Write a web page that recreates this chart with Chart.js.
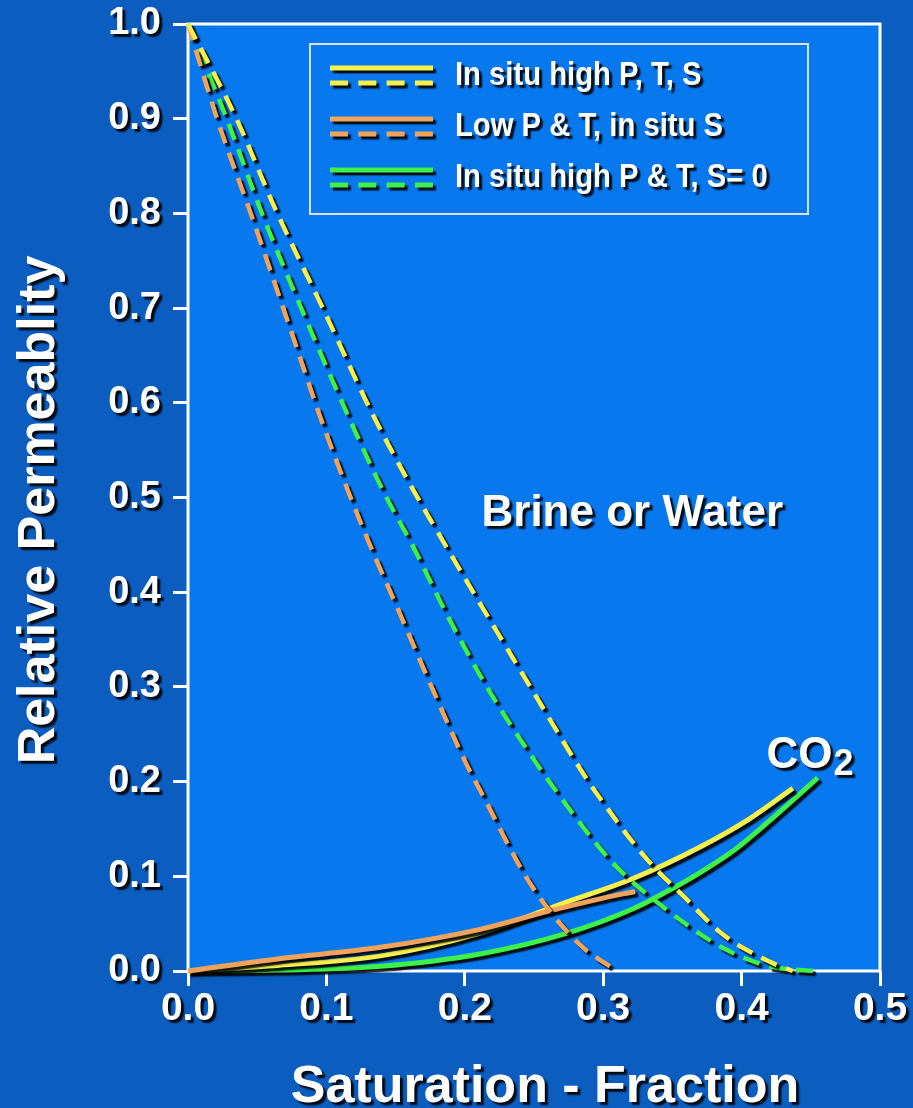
<!DOCTYPE html>
<html>
<head>
<meta charset="utf-8">
<script src="https://cdn.jsdelivr.net/npm/chart.js@4.4.1/dist/chart.umd.min.js"></script>
<style>
  html, body { margin: 0; padding: 0; background: #0b5dc0; }
  #wrap { width: 913px; height: 1108px; position: relative; }
</style>
</head>
<body>
<div id="wrap"><canvas id="relPermChart"></canvas></div>
<script>
// --- axis ticks ---
const xTickValues = [0, 0.1, 0.2, 0.3, 0.4, 0.5];
const xTickLabels = ['0.0', '0.1', '0.2', '0.3', '0.4', '0.5'];
const yTickValues = [0, 0.1, 0.2, 0.3, 0.4, 0.5, 0.6, 0.7, 0.8, 0.9, 1.0];
const yTickLabels = ['0.0', '0.1', '0.2', '0.3', '0.4', '0.5', '0.6', '0.7', '0.8', '0.9', '1.0'];

const xTitle = 'Saturation - Fraction';
const yTitle = 'Relative Permeablity';
const brineLabel = 'Brine or Water';
const co2Label = 'CO';
const co2Sub = '2';

// --- legend / series ---
const seriesNames = ['In situ high P, T, S', 'Low P & T, in situ S', 'In situ high P & T, S= 0'];
const seriesColors = ['#f6f04c', '#f2a35a', '#3ef04a'];

// brine (dashed) curves: saturation vs relative permeability
const brineHighSat = [0, 0.035, 0.063, 0.098, 0.132, 0.160, 0.181, 0.211, 0.242, 0.284, 0.295, 0.331, 0.358, 0.387, 0.420, 0.437];
const brineHighKr  = [1.0, 0.9, 0.805, 0.698, 0.592, 0.515, 0.462, 0.388, 0.313, 0.212, 0.188, 0.119, 0.079, 0.038, 0.010, 0.0];
const brineLowSat  = [0, 0.021, 0.047, 0.073, 0.099, 0.128, 0.152, 0.176, 0.201, 0.211, 0.247, 0.283, 0.310];
const brineLowKr   = [1.0, 0.9, 0.793, 0.682, 0.571, 0.462, 0.381, 0.300, 0.219, 0.191, 0.093, 0.028, 0.0];
const brineS0Sat   = [0, 0.028, 0.054, 0.085, 0.117, 0.142, 0.162, 0.189, 0.218, 0.251, 0.263, 0.307, 0.343, 0.387, 0.420, 0.452];
const brineS0Kr    = [1.0, 0.9, 0.798, 0.689, 0.582, 0.504, 0.450, 0.371, 0.295, 0.221, 0.196, 0.114, 0.068, 0.024, 0.005, 0.0];

// CO2 (solid) curves
const co2HighSat = [0, 0.066, 0.139, 0.211, 0.274, 0.322, 0.370, 0.406, 0.437];
const co2HighKr  = [0, 0.006, 0.016, 0.040, 0.073, 0.098, 0.131, 0.161, 0.193];
const co2LowSat  = [0, 0.066, 0.139, 0.211, 0.260, 0.300, 0.323];
const co2LowKr   = [0, 0.013, 0.025, 0.044, 0.063, 0.077, 0.084];
const co2S0Sat   = [0, 0.066, 0.139, 0.211, 0.274, 0.322, 0.346, 0.370, 0.394, 0.418, 0.455];
const co2S0Kr    = [0, 0.001, 0.005, 0.018, 0.040, 0.066, 0.084, 0.104, 0.127, 0.156, 0.204];

const plotBlue = '#0878ef';
const FONT = '"Liberation Sans", Arial, sans-serif';
const DASH = [17, 10];

function toPoints(xs, ys) {
  return xs.map((x, i) => ({ x: x, y: ys[i] }));
}

function curve(xs, ys, color, dashed) {
  return {
    data: toPoints(xs, ys),
    borderColor: color,
    borderWidth: dashed ? 4.5 : 5,
    borderDash: dashed ? DASH : [],
    borderCapStyle: 'butt',
    pointRadius: 0,
    showLine: true,
    fill: false,
    clip: false,
    cubicInterpolationMode: 'monotone'
  };
}

function setShadow(ctx, off) {
  ctx.shadowColor = 'rgba(0,0,0,0.9)';
  ctx.shadowOffsetX = off;
  ctx.shadowOffsetY = off;
  ctx.shadowBlur = 1.5;
}

function drawText(ctx, text, x, y, size, align, squeeze) {
  ctx.save();
  ctx.translate(x, y);
  ctx.scale(squeeze, 1);
  ctx.font = 'bold ' + size + 'px ' + FONT;
  ctx.textAlign = align;
  ctx.textBaseline = 'alphabetic';
  ctx.fillStyle = '#ffffff';
  ctx.fillText(text, 0, 0);
  ctx.restore();
}

// background of the plot area, shadows, legend box and annotations
const decorPlugin = {
  id: 'decor',
  beforeDraw(chart) {
    const { ctx, chartArea: a } = chart;
    ctx.save();
    ctx.fillStyle = plotBlue;
    ctx.fillRect(a.left, a.top, a.right - a.left, a.bottom - a.top);
    ctx.strokeStyle = '#ffffff';
    ctx.lineWidth = 3;
    ctx.strokeRect(a.left, a.top, a.right - a.left, a.bottom - a.top);
    ctx.restore();
  },
  beforeDatasetDraw(chart) {
    chart.ctx.save();
    setShadow(chart.ctx, 3);
  },
  afterDatasetDraw(chart) {
    chart.ctx.restore();
  },
  afterDatasetsDraw(chart) {
    // tick labels (z: 1) are drawn after this, so they pick up the shadow
    chart.ctx.save();
    setShadow(chart.ctx, 3);
  },
  afterDraw(chart) {
    const { ctx, chartArea: a, scales } = chart;

    // axis titles
    drawText(ctx, xTitle, 545, 1102, 52, 'center', 1);
    ctx.save();
    ctx.translate(54, 510);
    ctx.rotate(-Math.PI / 2);
    drawText(ctx, yTitle, 0, 0, 52, 'center', 1);
    ctx.restore();

    // annotations
    drawText(ctx, brineLabel, scales.x.getPixelForValue(0.321), scales.y.getPixelForValue(0.47), 44, 'center', 1);
    const cx = scales.x.getPixelForValue(0.418);
    const cy = scales.y.getPixelForValue(0.214);
    drawText(ctx, co2Label, cx, cy, 44, 'left', 1);
    ctx.save();
    ctx.font = 'bold 44px ' + FONT;
    const coW = ctx.measureText(co2Label).width;
    ctx.restore();
    drawText(ctx, co2Sub, cx + coW + 1, cy + 7, 36, 'left', 1);

    // legend box
    const bx = a.left + 122, by = a.top + 20, bw = 498, bh = 170;
    ctx.save();
    ctx.shadowColor = 'transparent';
    ctx.strokeStyle = '#d6e2f4';
    ctx.lineWidth = 2;
    ctx.strokeRect(bx, by, bw, bh);
    ctx.restore();

    seriesNames.forEach((name, i) => {
      const base = by + 41 + i * 51;
      ctx.save();
      ctx.strokeStyle = seriesColors[i];
      ctx.lineCap = 'butt';
      ctx.lineWidth = 5;
      ctx.beginPath();
      ctx.moveTo(bx + 20, base - 17);
      ctx.lineTo(bx + 123, base - 17);
      ctx.stroke();
      ctx.setLineDash([18, 10.3]);
      ctx.beginPath();
      ctx.moveTo(bx + 20, base - 2);
      ctx.lineTo(bx + 123, base - 2);
      ctx.stroke();
      ctx.restore();
      drawText(ctx, name, bx + 145, base, 34, 'left', 0.86);
    });

    ctx.restore();
  }
};

const tickFont = { family: FONT, weight: 'bold', size: 38 };

new Chart(document.getElementById('relPermChart'), {
  type: 'scatter',
  data: {
    datasets: [
      curve(brineHighSat, brineHighKr, seriesColors[0], true),
      curve(brineLowSat, brineLowKr, seriesColors[1], true),
      curve(brineS0Sat, brineS0Kr, seriesColors[2], true),
      curve(co2LowSat, co2LowKr, seriesColors[1], false),
      curve(co2HighSat, co2HighKr, seriesColors[0], false),
      curve(co2S0Sat, co2S0Kr, seriesColors[2], false)
    ]
  },
  options: {
    responsive: true,
    maintainAspectRatio: false,
    animation: false,
    events: [],
    layout: { padding: { top: 24, right: 33, left: 0, bottom: 0 } },
    plugins: {
      legend: { display: false },
      tooltip: { enabled: false }
    },
    scales: {
      x: {
        type: 'linear',
        min: 0,
        max: 0.5,
        afterBuildTicks: s => { s.ticks = xTickValues.map(v => ({ value: v })); },
        afterFit: s => { s.height = 137; s.paddingLeft = 0; s.paddingRight = 0; },
        border: { display: false },
        grid: { drawOnChartArea: false, drawTicks: true, tickLength: 15, color: '#ffffff', lineWidth: 3 },
        ticks: {
          z: 1,
          color: '#ffffff',
          font: { family: FONT, weight: 'bold', size: 39 },
          padding: 0,
          maxRotation: 0,
          autoSkip: false,
          callback: (v, i) => xTickLabels[i]
        }
      },
      y: {
        type: 'linear',
        min: 0,
        max: 1,
        afterBuildTicks: s => { s.ticks = yTickValues.map(v => ({ value: v })); },
        afterFit: s => { s.width = 188; s.paddingTop = 0; s.paddingBottom = 0; },
        border: { display: false },
        grid: { drawOnChartArea: false, drawTicks: true, tickLength: 15, color: '#ffffff', lineWidth: 3 },
        ticks: {
          z: 1,
          color: '#ffffff',
          font: tickFont,
          padding: 12,
          autoSkip: false,
          callback: (v, i) => yTickLabels[i]
        }
      }
    }
  },
  plugins: [decorPlugin]
});
</script>
</body>
</html>
